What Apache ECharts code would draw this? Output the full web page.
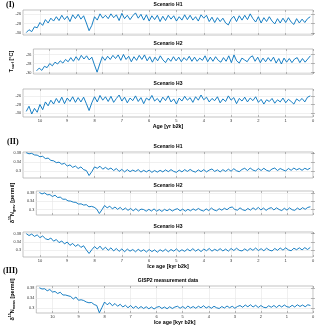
<!DOCTYPE html>
<html><head><meta charset="utf-8">
<script src="https://cdn.jsdelivr.net/npm/echarts@6/dist/echarts.min.js"></script>
<style>html,body{margin:0;padding:0;background:#fff}#c{width:320px;height:329px}</style>
</head><body><div id="c"></div>
<script>
const ages = [10.5,10.4,10.3,10.2,10.1,10.0,9.9,9.8,9.7,9.6,
9.5,9.4,9.3,9.2,9.1,9.0,8.9,8.8,8.7,8.6,
8.5,8.4,8.3,8.2,8.1,8.0,7.9,7.8,7.7,7.6,
7.5,7.4,7.3,7.2,7.1,7.0,6.9,6.8,6.7,6.6,
6.5,6.4,6.3,6.2,6.1,6.0,5.9,5.8,5.7,5.6,
5.5,5.4,5.3,5.2,5.1,5.0,4.9,4.8,4.7,4.6,
4.5,4.4,4.3,4.2,4.1,4.0,3.9,3.8,3.7,3.6,
3.5,3.4,3.3,3.2,3.1,3.0,2.9,2.8,2.7,2.6,
2.5,2.4,2.3,2.2,2.1,2.0,1.9,1.8,1.7,1.6,
1.5,1.4,1.3,1.2,1.1,1.0,0.9,0.8,0.7,0.6,
0.5,0.4,0.3,0.2,0.1];

const tempH1 = [-29.9,-29.3,-29.7,-28.7,-28.9,-27.8,-28.4,-27.2,-27.9,-26.9,
-27.5,-26.6,-27.4,-26.3,-27.2,-26.5,-27.6,-26.2,-27.0,-26.1,
-27.1,-26.4,-27.9,-29.5,-28.4,-26.6,-27.3,-26.0,-26.9,-26.3,
-27.0,-26.0,-26.8,-26.2,-27.4,-25.9,-27.0,-26.3,-27.2,-26.4,
-25.8,-26.9,-26.1,-27.3,-26.2,-27.5,-26.4,-27.2,-26.3,-27.6,
-26.5,-27.4,-26.3,-27.1,-26.4,-27.5,-26.6,-27.3,-26.2,-27.2,
-26.3,-27.3,-26.6,-27.5,-26.2,-26.9,-26.3,-27.6,-26.7,-27.8,
-26.8,-27.6,-26.9,-27.9,-28.3,-27.1,-26.5,-27.6,-26.4,-27.3,
-26.3,-27.2,-26.0,-27.0,-27.7,-26.6,-27.9,-26.8,-27.6,-26.6,
-27.5,-28.1,-27.0,-27.9,-26.9,-27.8,-26.8,-27.7,-28.2,-27.0,
-27.9,-27.1,-27.8,-27.0,-26.6];

const tempH2 = [-29.6,-29.0,-29.5,-28.6,-28.9,-28.0,-28.5,-27.7,-28.1,-27.4,
-27.9,-27.1,-27.6,-26.7,-27.5,-26.5,-27.3,-26.2,-27.0,-26.3,
-27.2,-26.6,-28.3,-29.9,-28.1,-26.5,-27.3,-26.4,-27.1,-26.2,
-26.9,-26.1,-27.3,-26.0,-27.1,-26.4,-27.6,-26.5,-27.3,-26.2,
-27.1,-26.1,-27.4,-26.5,-27.7,-26.6,-27.4,-26.3,-27.2,-27.8,
-26.8,-27.5,-26.5,-27.4,-26.6,-27.6,-26.7,-27.3,-26.4,-27.5,
-26.6,-27.5,-26.8,-27.3,-26.3,-27.6,-26.6,-27.5,-26.5,-27.3,
-27.7,-26.7,-27.5,-26.3,-27.8,-26.1,-27.4,-27.9,-26.8,-27.2,
-27.6,-26.7,-26.3,-27.5,-26.6,-27.8,-26.8,-27.6,-26.7,-27.5,
-26.6,-27.9,-26.9,-28.1,-26.8,-27.7,-26.9,-27.8,-27.0,-26.7,
-27.8,-26.9,-27.7,-27.0,-26.3];

const tempH3 = [-29.6,-28.4,-30.2,-28.9,-29.8,-28.0,-29.2,-27.4,-28.3,-27.0,
-27.9,-26.6,-27.6,-26.3,-27.8,-26.5,-27.3,-26.2,-27.5,-26.4,
-27.4,-26.3,-27.8,-29.4,-27.6,-26.2,-27.4,-25.9,-27.0,-26.2,
-27.3,-26.1,-27.5,-26.6,-25.8,-27.2,-26.3,-27.6,-26.5,-27.1,
-26.0,-27.3,-26.4,-27.8,-26.5,-27.0,-25.9,-27.2,-26.6,-27.5,
-26.3,-27.1,-26.0,-27.4,-26.7,-27.9,-26.5,-27.2,-26.1,-27.0,
-26.4,-27.5,-26.2,-27.0,-25.8,-26.9,-26.3,-27.4,-26.6,-27.1,
-26.2,-27.6,-26.7,-27.3,-26.0,-27.0,-26.4,-27.8,-26.6,-27.2,
-26.3,-27.4,-26.5,-27.1,-26.2,-27.5,-26.8,-27.9,-26.9,-27.3,
-26.6,-27.7,-26.9,-27.4,-26.5,-27.6,-26.8,-27.3,-27.9,-26.7,
-27.2,-26.6,-27.4,-26.3,-26.0];

const d15nH1 = [0.381,0.376,0.378,0.371,0.370,0.363,0.365,0.355,0.357,0.347,
0.345,0.337,0.339,0.330,0.334,0.322,0.327,0.316,0.322,0.311,
0.318,0.306,0.302,0.280,0.297,0.318,0.312,0.321,0.308,0.316,
0.307,0.313,0.302,0.311,0.298,0.307,0.296,0.306,0.297,0.304,
0.298,0.306,0.295,0.303,0.296,0.304,0.294,0.302,0.295,0.303,
0.296,0.305,0.297,0.306,0.298,0.294,0.304,0.296,0.306,0.298,
0.307,0.299,0.295,0.305,0.297,0.306,0.296,0.304,0.309,0.298,
0.305,0.296,0.306,0.298,0.308,0.299,0.310,0.301,0.297,0.307,
0.312,0.302,0.313,0.304,0.300,0.311,0.302,0.312,0.303,0.299,
0.309,0.313,0.302,0.311,0.305,0.300,0.311,0.303,0.313,0.305,
0.311,0.303,0.312,0.306,0.313];

const d15nH2 = [0.382,0.375,0.380,0.371,0.372,0.363,0.369,0.358,0.360,0.350,
0.350,0.342,0.341,0.336,0.335,0.327,0.328,0.322,0.324,0.314,
0.316,0.312,0.303,0.282,0.300,0.320,0.309,0.317,0.304,0.313,
0.302,0.311,0.299,0.308,0.297,0.306,0.295,0.305,0.294,0.303,
0.301,0.293,0.302,0.294,0.304,0.293,0.301,0.292,0.302,0.295,
0.303,0.294,0.301,0.305,0.295,0.303,0.293,0.302,0.295,0.304,
0.297,0.306,0.298,0.294,0.304,0.296,0.308,0.299,0.295,0.305,
0.298,0.307,0.300,0.310,0.313,0.301,0.298,0.309,0.300,0.296,
0.306,0.298,0.309,0.300,0.311,0.299,0.308,0.297,0.306,0.310,
0.299,0.309,0.301,0.296,0.307,0.298,0.309,0.300,0.297,0.308,
0.300,0.310,0.302,0.311,0.314];

const d15nH3 = [0.380,0.371,0.378,0.367,0.374,0.361,0.369,0.356,0.351,0.359,
0.344,0.352,0.337,0.345,0.331,0.340,0.324,0.333,0.319,0.328,
0.314,0.322,0.302,0.285,0.303,0.318,0.306,0.320,0.303,0.315,
0.300,0.312,0.297,0.309,0.295,0.307,0.293,0.306,0.296,0.304,
0.293,0.305,0.295,0.303,0.292,0.304,0.294,0.302,0.291,0.303,
0.295,0.305,0.293,0.304,0.296,0.307,0.294,0.303,0.295,0.306,
0.297,0.308,0.296,0.305,0.294,0.306,0.298,0.309,0.296,0.305,
0.298,0.308,0.297,0.306,0.296,0.309,0.299,0.310,0.300,0.297,
0.307,0.298,0.309,0.300,0.311,0.299,0.308,0.298,0.310,0.301,
0.297,0.309,0.300,0.311,0.301,0.312,0.302,0.298,0.310,0.303,
0.312,0.302,0.313,0.304,0.314];

const d15nGISP2 = [0.381,0.376,0.377,0.369,0.374,0.364,0.366,0.358,0.363,0.352,
0.352,0.349,0.346,0.336,0.344,0.331,0.333,0.330,0.324,0.321,
0.322,0.314,0.310,0.281,0.302,0.324,0.313,0.321,0.309,0.318,
0.307,0.315,0.304,0.311,0.301,0.310,0.299,0.307,0.298,0.306,
0.298,0.305,0.297,0.304,0.296,0.303,0.306,0.298,0.304,0.297,
0.305,0.298,0.304,0.307,0.299,0.306,0.298,0.308,0.300,0.306,
0.299,0.307,0.301,0.309,0.300,0.306,0.299,0.307,0.301,0.298,
0.306,0.300,0.308,0.301,0.307,0.299,0.306,0.310,0.303,0.312,
0.305,0.313,0.304,0.311,0.302,0.310,0.303,0.301,0.309,0.303,
0.310,0.302,0.311,0.304,0.312,0.305,0.303,0.311,0.304,0.313,
0.306,0.312,0.305,0.313,0.310];

const titles = ['Scenario H1','Scenario H2','Scenario H3','Scenario H1','Scenario H2','Scenario H3','GISP2 measurement data'];
const tempTicks = [-30,-28,-26];
const d15nTicks = [0.3,0.34,0.38];
const xTicks = [0,1,2,3,4,5,6,7,8,9,10];

const chart = echarts.init(document.getElementById('c'), null, {renderer:'canvas'});
const FONT = 'Liberation Sans, Arial, sans-serif';
const BLUE = '#0072BD';

const panels = [
  {top:10, h:25, data:tempH1, min:-30.4, max:-25.2, ticks:tempTicks, xlab:false},
  {top:49, h:25, data:tempH2, min:-30.3, max:-24.8, ticks:tempTicks, xlab:false, yname:'T{sub|surf} {n|[°C]}'},
  {top:89, h:28, data:tempH3, min:-30.9, max:-24.4, ticks:tempTicks, xlab:true, xname:'Age [yr b2k]', gap:7},
  {top:152, h:26, data:d15nH1, min:0.269, max:0.384, ticks:d15nTicks, xlab:false},
  {top:191, h:24, data:d15nH2, min:0.275, max:0.389, ticks:d15nTicks, xlab:false, yname:'{n|δ}{sup|15}{n|N}{sub|grav} {n|[permil]}'},
  {top:232, h:25, data:d15nH3, min:0.268, max:0.388, ticks:d15nTicks, xlab:true, xname:'Ice age [kyr b2k]', gap:6},
  {top:286, h:27, data:d15nGISP2, min:0.280, max:0.388, ticks:d15nTicks, xlab:true, xname:'Ice age [kyr b2k]', gap:7, yname:'{n|δ}{sup|15}{n|N}{sub|meas} {n|[permil]}'}
];

const rich = {
  n:{fontSize:5.5, fontWeight:'bold', fontFamily:FONT, color:'#000', lineHeight:8, verticalAlign:'middle'},
  sub:{fontSize:3.6, fontWeight:'bold', fontFamily:FONT, color:'#000', lineHeight:8, verticalAlign:'bottom'},
  sup:{fontSize:3.6, fontWeight:'bold', fontFamily:FONT, color:'#000', lineHeight:8, verticalAlign:'top'}
};

const grid=[], xAxis=[], yAxis=[], series=[], title=[];
panels.forEach((p,i)=>{
  grid.push({left:23, right:7, top:p.top, height:p.h, show:true, borderColor:'#9a9a9a', borderWidth:0.6, containLabel:false});
  const xl = {
    type:'value', gridIndex:i, min:0, max:10.62, interval:1, inverse:true,
    axisLine:{show:false},
    axisTick:{show:true, inside:true, length:2, lineStyle:{color:'#777', width:0.5}, customValues:xTicks},
    axisLabel:{show:p.xlab, fontSize:4, color:'#333', margin:2, fontFamily:FONT, customValues:xTicks},
    splitLine:{show:true, lineStyle:{color:'#e6e6e6', width:0.6}}
  };
  if (p.xname){ Object.assign(xl,{name:p.xname, nameLocation:'middle', nameGap:p.gap, nameTextStyle:{fontSize:5.3, fontWeight:'bold', fontFamily:FONT, color:'#000'}}); }
  xAxis.push(xl);
  xAxis.push({type:'value', gridIndex:i, position:'top', min:0, max:10.62, inverse:true,
    axisLine:{show:false}, axisLabel:{show:false}, splitLine:{show:false},
    axisTick:{show:true, inside:true, length:2, lineStyle:{color:'#777', width:0.5}, customValues:xTicks}});
  const yl = {
    type:'value', gridIndex:i, min:p.min, max:p.max,
    axisLine:{show:false},
    axisTick:{show:true, inside:true, length:2, lineStyle:{color:'#777', width:0.5}, customValues:p.ticks},
    axisLabel:{show:true, fontSize:3.8, color:'#333', margin:2, fontFamily:FONT, customValues:p.ticks},
    splitLine:{show:true, lineStyle:{color:'#e6e6e6', width:0.6}}
  };
  if (p.yname){ Object.assign(yl,{name:p.yname, nameLocation:'middle', nameRotate:90, nameGap:11, nameTextStyle:{fontSize:5.5, fontWeight:'bold', fontFamily:FONT, color:'#000', rich:rich}}); }
  yAxis.push(yl);
  yAxis.push({type:'value', gridIndex:i, position:'right', min:p.min, max:p.max,
    axisLine:{show:false}, axisLabel:{show:false}, splitLine:{show:false},
    axisTick:{show:true, inside:true, length:2, lineStyle:{color:'#777', width:0.5}, customValues:p.ticks}});
  series.push({type:'line', xAxisIndex:2*i, yAxisIndex:2*i, showSymbol:false, symbol:'none',
    data: ages.map((a,k)=>[a,p.data[k]]), lineStyle:{color:BLUE, width:0.9}, animation:false});
  title.push({text:titles[i], left:168, top:p.top-8, textAlign:'center',
    textStyle:{fontSize:5, fontWeight:'bold', fontFamily:FONT, color:'#000'}, padding:0});
});

const option = {
  backgroundColor:'#fff',
  animation:false,
  title:title, grid:grid, xAxis:xAxis, yAxis:yAxis, series:series,
  graphic:[
    {type:'text', left:6, top:1, style:{text:'(I)', font:'bold 8px "Liberation Serif", Times, serif', fill:'#000'}},
    {type:'text', left:7, top:138, style:{text:'(II)', font:'bold 8px "Liberation Serif", Times, serif', fill:'#000'}},
    {type:'text', left:3, top:267, style:{text:'(III)', font:'bold 8px "Liberation Serif", Times, serif', fill:'#000'}}
  ]
};
chart.setOption(option);
</script></body></html>
